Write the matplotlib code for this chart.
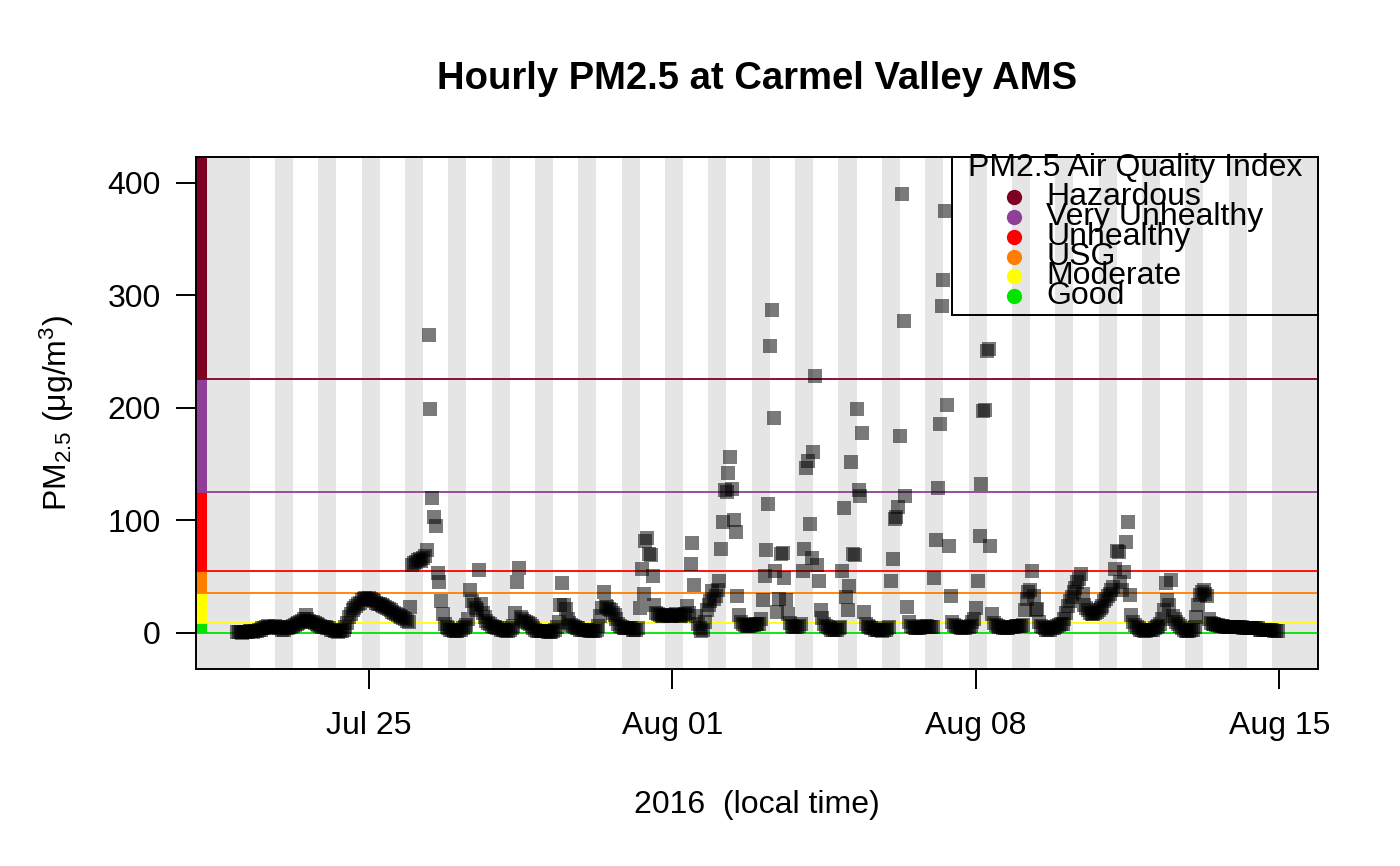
import numpy as np
import pandas as pd
import matplotlib
matplotlib.use('Agg')
import matplotlib.pyplot as plt
import matplotlib.dates as mdates
from matplotlib.patches import Rectangle

# hourly PM2.5 (ug/m3), local time, one list per day (hours 0..23)
jul21 = [1]  # 23:00 only
jul22 = [1, 1, 0, 1, 1, 1, 2, 2, 1, 2, 2, 3, 3, 4, 4, 5, 6, 5, 4, 5, 6, 5, 4, 5]
jul23 = [3, 3, 4, 4, 5, 5, 6, 7, 8, 9, 10, 11, 12, 16, 12, 11, 10, 10, 9, 8, 7, 6, 5, 5]
jul24 = [5, 4, 4, 3, 3, 2, 2, 1, 2, 2, 3, 5, 9, 14, 17, 20, 22, 24, 26, 27, 29, 30, 31, 30]
jul25 = [31, 30, 29, 28, 27, 26, 26, 25, 24, 23, 22, 21, 20, 19, 18, 17, 16, 15, 14, 13, 12, 11, 10, 23]
jul26 = [60, 62, 63, 65, 66, 64, 67, 68, 74, 265, 199, 120, 103, 95, 53, 45, 28, 17, 8, 5, 4, 3, 3, 2]
jul27 = [2, 2, 3, 3, 4, 5, 7, 12, 38, 28, 25, 22, 20, 56, 26, 18, 14, 11, 9, 8, 6, 5, 5, 4]
jul28 = [4, 3, 3, 3, 2, 2, 3, 4, 6, 18, 45, 58, 14, 12, 11, 10, 9, 8, 6, 4, 3, 2, 2, 2]
jul29 = [2, 2, 2, 1, 1, 1, 2, 3, 5, 10, 25, 44, 25, 21, 12, 9, 7, 6, 5, 4, 4, 3, 3, 3]
jul30 = [3, 3, 2, 2, 2, 2, 3, 6, 15, 22, 36, 24, 23, 21, 20, 18, 16, 12, 8, 6, 5, 4, 4, 4]
jul31 = [4, 4, 3, 3, 3, 4, 22, 57, 35, 82, 84, 70, 69, 51, 25, 18, 17, 16, 15, 15, 16, 16, 15, 15]
aug01 = [15, 16, 17, 16, 15, 15, 16, 17, 24, 18, 61, 80, 43, 15, 8, 4, 2, 3, 10, 20, 25, 28, 37, 30]
aug02 = [33, 38, 46, 75, 99, 127, 125, 142, 156, 128, 100, 90, 33, 16, 10, 8, 7, 6, 6, 6, 7, 7, 8, 8]
aug03 = [8, 12, 29, 51, 74, 115, 255, 287, 191, 55, 19, 30, 70, 71, 49, 29, 17, 9, 6, 5, 5, 5, 6, 8]
aug04 = [55, 75, 147, 153, 97, 67, 161, 228, 60, 46, 20, 13, 8, 6, 5, 4, 3, 3, 3, 3, 4, 5, 55, 111]
aug05 = [32, 20, 42, 152, 70, 69, 199, 127, 122, 178, 19, 8, 6, 5, 4, 4, 3, 3, 3, 3, 2, 3, 3, 4]
aug06 = [5, 46, 66, 101, 103, 112, 175, 390, 277, 122, 23, 10, 6, 5, 4, 4, 4, 4, 5, 5, 6, 6, 5, 5]
aug07 = [5, 49, 83, 129, 186, 291, 314, 375, 203, 77, 33, 10, 7, 6, 5, 5, 4, 4, 4, 5, 5, 6, 10, 12]
aug08 = [22, 46, 86, 132, 197, 198, 251, 252, 77, 17, 9, 7, 6, 5, 5, 4, 4, 4, 4, 5, 5, 5, 6, 6]
aug09 = [6, 6, 7, 20, 30, 36, 38, 55, 33, 20, 21, 10, 6, 5, 4, 3, 3, 3, 4, 4, 5, 6, 7, 8]
aug10 = [8, 12, 18, 24, 28, 32, 36, 40, 45, 48, 52, 35, 25, 22, 20, 18, 17, 17, 18, 19, 20, 22, 24, 28]
aug11 = [30, 33, 35, 38, 41, 57, 73, 72, 45, 38, 54, 81, 99, 34, 16, 10, 7, 5, 4, 3, 3, 2, 2, 3]
aug12 = [3, 3, 3, 4, 5, 6, 8, 12, 20, 44, 29, 25, 47, 15, 12, 10, 8, 6, 4, 3, 2, 2, 2, 3]
aug13 = [3, 5, 14, 25, 34, 36, 38, 35, 33, 12, 9, 8, 8, 7, 7, 6, 6, 6, 5, 5, 5, 5, 5, 5]
aug14 = [5, 5, 5, 5, 4, 4, 4, 4, 4, 4, 4, 4, 4, 3, 3, 3, 3, 3, 3, 3, 3, 2, 2, 2]

pm25 = (jul21 + jul22 + jul23 + jul24 + jul25 + jul26 + jul27 + jul28 + jul29
        + jul30 + jul31 + aug01 + aug02 + aug03 + aug04 + aug05 + aug06 + aug07
        + aug08 + aug09 + aug10 + aug11 + aug12 + aug13 + aug14)
times = pd.date_range('2016-07-21 23:00', periods=len(pm25), freq='h')

aqi_names = ['Good', 'Moderate', 'USG', 'Unhealthy', 'Very Unhealthy', 'Hazardous']
aqi_breaks = [0, 9.1, 35.5, 55.5, 125.5, 225.5]
aqi_colors = ['#00E400', '#FFFF00', '#FF7E00', '#FF0000', '#8F3F97', '#7E0023']

night_dates = pd.date_range('2016-07-21', '2016-08-14', freq='D')
sunset_hour = 19.9
sunrise_hour = 5.9

tick_dates = ['2016-07-25', '2016-08-01', '2016-08-08', '2016-08-15']
tick_labels = ['Jul 25', 'Aug 01', 'Aug 08', 'Aug 15']
x_range = ('2016-07-21 00:17', '2016-08-15 21:20')
y_range = (-32, 423)

#%%
plt.rcParams['font.family'] = ['Liberation Sans', 'DejaVu Sans']
plt.rcParams['mathtext.fontset'] = 'custom'
plt.rcParams['mathtext.rm'] = 'Liberation Sans'
plt.rcParams['mathtext.it'] = 'Liberation Sans'
fig = plt.figure(figsize=(14, 8.66), dpi=100)
ax = fig.add_axes([196/1400, 1-669/866, 1122/1400, 512/866])

x0 = mdates.date2num(pd.Timestamp(x_range[0]))
x1 = mdates.date2num(pd.Timestamp(x_range[1]))

# night shading
for i, d in enumerate(night_dates):
    a = mdates.date2num(d + pd.Timedelta(hours=sunset_hour))
    b = mdates.date2num(d + pd.Timedelta(days=1, hours=sunrise_hour))
    if i == 0:
        a = x0
    if i == len(night_dates) - 1:
        b = x1
    ax.axvspan(a, b, color='#e5e5e5', lw=0, zorder=0)

# AQI color bar on the left + lines
tops = aqi_breaks[1:] + [y_range[1]]
for lo, hi, c in zip(aqi_breaks, tops, aqi_colors):
    ax.axhspan(lo, hi, xmin=0, xmax=11/1122, color=c, lw=0, zorder=2)
    ax.axhline(lo, color=c, lw=1.3, zorder=2)

ax.plot(mdates.date2num(times), pm25, 's', color='black', alpha=0.52,
        ms=10, mew=0, zorder=3)

ax.set_xlim(x0, x1)
ax.set_ylim(*y_range)
ax.set_yticks([0, 100, 200, 300, 400])
ax.set_xticks([mdates.date2num(pd.Timestamp(t)) for t in tick_dates])
ax.set_xticklabels(tick_labels)
ax.tick_params(axis='both', labelsize=23, length=14.4, width=1.4, direction='out')
ax.tick_params(axis='y', pad=11)
ax.tick_params(axis='x', pad=16)
for s in ax.spines.values():
    s.set_linewidth(1.4)
    s.set_zorder(5)

# legend (drawn by hand to mimic the tightly packed rows)
ax.add_patch(Rectangle((0.6738, 0.6914), 0.3262, 0.3086, transform=ax.transAxes,
                       fill=False, ec='black', lw=1.4, zorder=6, clip_on=False))
ax.text(0.8369, 0.9785, 'PM2.5 Air Quality Index', transform=ax.transAxes,
        ha='center', va='center', fontsize=23, zorder=7)
row_y = [0.7285, 0.7676, 0.8053, 0.8443, 0.8834, 0.9225]
for name, c, yy in zip(aqi_names, aqi_colors, row_y):
    ax.plot(0.729, yy, 'o', color=c, ms=11, mew=0, transform=ax.transAxes,
            zorder=7, clip_on=False)
    ax.text(0.7576, yy, name, transform=ax.transAxes, ha='left', va='center',
            fontsize=23, zorder=7)

fig.text(757/1400, 1-79/866, 'Hourly PM2.5 at Carmel Valley AMS', ha='center',
         va='center', fontsize=27.5, fontweight='bold')
fig.text(757/1400, 1-805/866, '2016  (local time)', ha='center', va='center',
         fontsize=23)
fig.text(57/1400, 1-413/866, r'PM$_{2.5}$ (μg/m$^3$)', ha='center',
         va='center', rotation=90, fontsize=23)

fig.savefig('out.png', dpi=100)
